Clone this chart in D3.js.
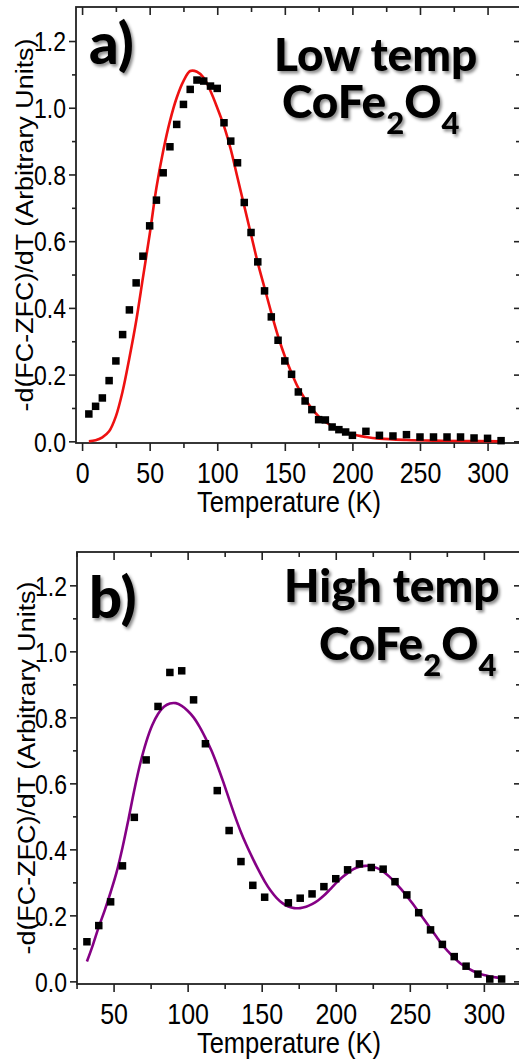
<!DOCTYPE html>
<html>
<head>
<meta charset="utf-8">
<script src="https://cdn.jsdelivr.net/npm/d3@7"></script>
<style>
  body { margin: 0; background: #fff; }
  svg { display: block; }
</style>
</head>
<body>
<div class="chart"></div>
<script>
var svgWidth = 519;
var svgHeight = 1063;

// panel a) low temp data (squares) and fit (red line)
var lowTemps = [5, 10, 15, 20, 25, 30, 35, 40, 45, 50, 55, 60, 65, 70, 75, 80, 85, 90, 95, 100,
  105, 110, 115, 120, 125, 130, 135, 140, 145, 150, 155, 160, 165, 170, 175, 180, 185, 190, 195, 200,
  210, 220, 230, 240, 250, 260, 270, 280, 290, 300, 310];
var lowValues = [0.082, 0.105, 0.13, 0.182, 0.241, 0.32, 0.394, 0.475, 0.555, 0.646, 0.723, 0.805, 0.883, 0.95, 1.01, 1.055, 1.083, 1.08, 1.065, 1.058,
  0.955, 0.9, 0.835, 0.716, 0.626, 0.538, 0.451, 0.373, 0.303, 0.241, 0.201, 0.148, 0.121, 0.095, 0.065, 0.064, 0.043, 0.035, 0.028, 0.018,
  0.03, 0.018, 0.016, 0.02, 0.013, 0.013, 0.013, 0.013, 0.01, 0.009, 0.002];
var lowFitTemps = [5, 10, 15, 20, 25, 30, 35, 40, 45, 50, 55, 60, 65, 70, 75, 80, 85, 90, 95, 100,
  105, 110, 115, 120, 125, 130, 135, 140, 145, 150, 155, 160, 165, 170, 175, 180, 190, 200, 210, 220,
  240, 260, 280, 310];
var lowFitValues = [0, 0.003, 0.012, 0.03, 0.075, 0.15, 0.25, 0.36, 0.49, 0.62, 0.76, 0.87, 0.96, 1.03, 1.08, 1.11, 1.108, 1.09, 1.05, 1.0,
  0.945, 0.875, 0.79, 0.705, 0.62, 0.535, 0.46, 0.385, 0.315, 0.255, 0.205, 0.16, 0.127, 0.098, 0.075, 0.058, 0.036, 0.021, 0.013, 0.008,
  0.004, 0.002, 0.001, 0.0];

// panel b) high temp data (squares) and fit (purple line)
var highTemps = [32, 40, 48, 56, 64, 72, 80, 88, 96, 104, 112, 120, 128, 136, 144, 152, 168, 176, 184, 192,
  200, 208, 216, 224, 232, 240, 248, 256, 264, 272, 280, 288, 296, 304, 312];
var highValues = [0.12, 0.169, 0.241, 0.35, 0.497, 0.671, 0.833, 0.936, 0.941, 0.853, 0.72, 0.578, 0.457, 0.363, 0.291, 0.255, 0.238, 0.252, 0.265, 0.287,
  0.311, 0.338, 0.356, 0.345, 0.34, 0.302, 0.262, 0.208, 0.156, 0.112, 0.075, 0.046, 0.022, 0.007, 0.007];
var highFitTemps = [32, 36, 40, 44, 48, 52, 56, 60, 64, 68, 72, 76, 80, 84, 88, 92, 96, 100, 104, 108,
  112, 116, 120, 124, 128, 132, 136, 140, 144, 148, 152, 156, 160, 164, 168, 172, 176, 180, 184, 188,
  192, 196, 200, 204, 208, 212, 216, 220, 224, 228, 232, 236, 240, 244, 248, 252, 256, 260, 264, 268,
  272, 276, 280, 284, 288, 292, 296, 300, 304, 308, 311];
var highFitValues = [0.06, 0.11, 0.165, 0.215, 0.27, 0.33, 0.405, 0.49, 0.58, 0.66, 0.725, 0.775, 0.81, 0.832, 0.842, 0.843, 0.835, 0.82, 0.8, 0.772,
  0.738, 0.7, 0.655, 0.605, 0.552, 0.5, 0.452, 0.41, 0.372, 0.336, 0.303, 0.275, 0.253, 0.237, 0.227, 0.222, 0.222, 0.226, 0.234, 0.245,
  0.26, 0.278, 0.297, 0.314, 0.328, 0.34, 0.347, 0.35, 0.349, 0.343, 0.333, 0.318, 0.3, 0.28, 0.258, 0.235, 0.21, 0.185, 0.16, 0.135,
  0.11, 0.09, 0.071, 0.055, 0.043, 0.033, 0.025, 0.019, 0.015, 0.012, 0.011];

// ticks
var lowXTicks = [0, 50, 100, 150, 200, 250, 300];
var lowXMinor = [25, 75, 125, 175, 225, 275];
var highXTicks = [50, 100, 150, 200, 250, 300];
var highXMinor = [25, 75, 125, 175, 225, 275];
var yTicks = [0.0, 0.2, 0.4, 0.6, 0.8, 1.0, 1.2];
var yMinor = [0.1, 0.3, 0.5, 0.7, 0.9, 1.1];

var xTitle = "Temperature (K)";
var yTitle = "-d(FC-ZFC)/dT (Arbitrary Units)";

var stretch = 1.17; // text in the picture is a bit taller than wide

var svg = d3.select(".chart")
  .append("svg")
  .attr("width", svgWidth)
  .attr("height", svgHeight);

// soft shadow for the big labels
var filter = svg.append("defs").append("filter")
  .attr("id", "shadow")
  .attr("x", "-20%").attr("y", "-20%")
  .attr("width", "140%").attr("height", "140%");
filter.append("feDropShadow")
  .attr("dx", 2).attr("dy", 2.5)
  .attr("stdDeviation", 1.6)
  .attr("flood-color", "#000")
  .attr("flood-opacity", 0.45);

function drawPanel(p) {
  var x = d3.scaleLinear().domain(p.xDomain).range([p.left, p.right]);
  var y = d3.scaleLinear().domain(p.yDomain).range([p.bottom, p.top]);

  var g = svg.append("g");

  // mirrored ticks on top (inward)
  g.append("g")
    .attr("transform", `translate(0, ${p.top})`)
    .call(d3.axisBottom(x).tickValues(p.xTicks).tickSize(8).tickSizeOuter(0).tickFormat(""));
  g.append("g")
    .attr("transform", `translate(0, ${p.top})`)
    .call(d3.axisBottom(x).tickValues(p.xMinor).tickSize(5).tickSizeOuter(0).tickFormat(""));

  // mirrored ticks on the right (inward)
  g.append("g")
    .attr("transform", `translate(${p.right}, 0)`)
    .call(d3.axisLeft(y).tickValues(yTicks).tickSize(6).tickSizeOuter(0).tickFormat(""));
  g.append("g")
    .attr("transform", `translate(${p.right}, 0)`)
    .call(d3.axisLeft(y).tickValues(yMinor).tickSize(4).tickSizeOuter(0).tickFormat(""));

  // bottom axis
  var bottomAxis = g.append("g")
    .attr("class", "x-axis")
    .attr("transform", `translate(0, ${p.bottom})`)
    .call(d3.axisBottom(x).tickValues(p.xTicks).tickSize(8).tickSizeOuter(0).tickFormat(d3.format("d")));
  g.append("g")
    .attr("transform", `translate(0, ${p.bottom})`)
    .call(d3.axisBottom(x).tickValues(p.xMinor).tickSize(5).tickSizeOuter(0).tickFormat(""));

  bottomAxis.selectAll(".tick text")
    .attr("font-family", "'Liberation Sans', Arial, sans-serif")
    .attr("font-size", 25)
    .attr("fill", "#000")
    .attr("dy", 0)
    .attr("y", 40 / stretch)
    .attr("transform", `scale(1, ${stretch})`);

  // left axis
  var leftAxis = g.append("g")
    .attr("transform", `translate(${p.left}, 0)`)
    .call(d3.axisLeft(y).tickValues(yTicks).tickSize(7).tickSizeOuter(0).tickFormat(d3.format(".1f")));
  g.append("g")
    .attr("transform", `translate(${p.left}, 0)`)
    .call(d3.axisLeft(y).tickValues(yMinor).tickSize(4).tickSizeOuter(0).tickFormat(""));

  leftAxis.selectAll(".tick text")
    .attr("font-family", "'Liberation Sans', Arial, sans-serif")
    .attr("font-size", 23)
    .attr("fill", "#000")
    .attr("x", -10)
    .attr("dy", "0.36em")
    .attr("transform", `scale(1, ${stretch})`);

  g.selectAll(".domain").remove();
  g.selectAll(".tick line")
    .attr("stroke", "#222")
    .attr("stroke-width", 1.6);

  // frame
  g.append("rect")
    .attr("x", p.left)
    .attr("y", p.top)
    .attr("width", p.right - p.left)
    .attr("height", p.bottom - p.top)
    .attr("fill", "none")
    .attr("stroke", "#222")
    .attr("stroke-width", 1.8);

  // fit line
  var line = d3.line()
    .x(d => x(d[0]))
    .y(d => y(d[1]))
    .curve(d3.curveCatmullRom.alpha(0.5));

  var fit = p.fitT.map((t, i) => [t, p.fitV[i]]);
  g.append("path")
    .datum(fit)
    .attr("d", line)
    .attr("fill", "none")
    .attr("stroke", p.color)
    .attr("stroke-width", 2.6);

  // data squares
  var pts = p.dataT.map((t, i) => [t, p.dataV[i]]);
  var size = 7.5;
  g.selectAll(".pt")
    .data(pts)
    .enter()
    .append("rect")
    .attr("x", d => x(d[0]) - size / 2)
    .attr("y", d => y(d[1]) - size / 2)
    .attr("width", size)
    .attr("height", size)
    .attr("fill", "#000");

  // axis titles
  g.append("text")
    .attr("transform", `translate(289, ${p.bottom + 69}) scale(1, ${stretch})`)
    .attr("text-anchor", "middle")
    .attr("font-family", "'Liberation Sans', Arial, sans-serif")
    .attr("font-size", 25.5)
    .text(xTitle);

  g.append("text")
    .attr("transform", `translate(${p.yTitleX}, ${(p.top + p.bottom) / 2}) scale(1, ${stretch}) rotate(-90)`)
    .attr("text-anchor", "middle")
    .attr("font-family", "'Liberation Sans', Arial, sans-serif")
    .attr("font-size", 23)
    .text(yTitle);

  // big labels
  var big = g.append("g")
    .attr("filter", "url(#shadow)")
    .attr("font-family", "Lato, 'Open Sans', sans-serif")
    .attr("font-weight", 900)
    .attr("fill", "#000");

  big.append("text")
    .attr("x", p.tag[0])
    .attr("y", p.tag[1])
    .attr("font-size", 58)
    .text(p.tagText);

  big.append("text")
    .attr("x", p.line1[0])
    .attr("y", p.line1[1])
    .attr("font-size", 46)
    .text(p.line1Text);

  var formula = big.append("text")
    .attr("x", p.line2[0])
    .attr("y", p.line2[1])
    .attr("font-size", 46);
  formula.append("tspan").text("CoFe");
  formula.append("tspan").attr("font-size", 31).attr("dy", 16).text("2");
  formula.append("tspan").attr("dy", -16).text("O");
  formula.append("tspan").attr("font-size", 31).attr("dy", 16).text("4");
}

drawPanel({
  left: 76, right: 520, top: 7, bottom: 443,
  xDomain: [-4.5, 324], yDomain: [-0.005, 1.302],
  xTicks: lowXTicks, xMinor: lowXMinor,
  dataT: lowTemps, dataV: lowValues,
  fitT: lowFitTemps, fitV: lowFitValues,
  color: "#ee1111",
  yTitleX: 33,
  tag: [89, 64], tagText: "a)",
  line1: [274, 71], line1Text: "Low temp",
  line2: [282, 118]
});

drawPanel({
  left: 77, right: 520, top: 552, bottom: 984,
  xDomain: [25.3, 324.4], yDomain: [-0.008, 1.301],
  xTicks: highXTicks, xMinor: highXMinor,
  dataT: highTemps, dataV: highValues,
  fitT: highFitTemps, fitV: highFitValues,
  color: "#850085",
  yTitleX: 35,
  tag: [89, 618], tagText: "b)",
  line1: [284, 602], line1Text: "High temp",
  line2: [319, 660]
});
</script>
</body>
</html>
